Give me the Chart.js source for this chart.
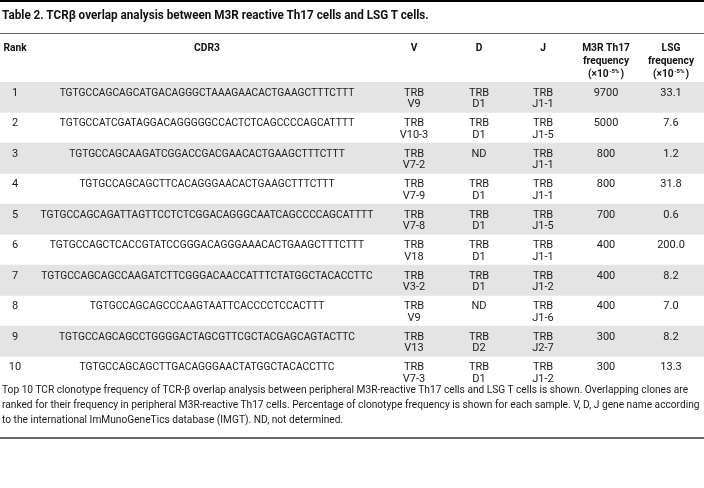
<!DOCTYPE html>
<html>
<head>
<meta charset="utf-8">
<script src="https://cdn.jsdelivr.net/npm/chart.js@4.4.1/dist/chart.umd.min.js"></script>
<style>
  html, body { margin: 0; padding: 0; background: #fff; }
  #wrap { position: relative; width: 704px; height: 488px; overflow: hidden; font-family: Roboto, "DejaVu Sans", sans-serif; color: #1a1a1a; }
  #topBar { position: absolute; left: 0; top: 0; width: 704px; height: 2px; background: #000; }
  #title { position: absolute; left: 2px; top: 6px; font-size: 12.5px; line-height: 17px; font-weight: bold; white-space: nowrap; color: #111; transform-origin: 0 0; }
  #rule1 { position: absolute; left: 0; top: 33px; width: 704px; height: 1px; background: #666; }
  #note { position: absolute; left: 2px; top: 382px; font-size: 10.5px; line-height: 15px; white-space: nowrap; color: #1a1a1a; transform-origin: 0 0; }
  #rule2 { position: absolute; left: 0; top: 437px; width: 704px; height: 2px; background: #666; }
  #tabela { position: absolute; left: 0; top: 0; }
</style>
</head>
<body>
<div id="wrap">
  <canvas id="tabela" width="704" height="488"></canvas>
  <div id="topBar"></div>
  <div id="title">Table 2. TCRβ overlap analysis between M3R reactive Th17 cells and LSG T cells.</div>
  <div id="rule1"></div>
  <div id="note"><span id="nota1">Top 10 TCR clonotype frequency of TCR-β overlap analysis between peripheral M3R-reactive Th17 cells and LSG T cells is shown. Overlapping clones are</span><br>ranked for their frequency in peripheral M3R-reactive Th17 cells. Percentage of clonotype frequency is shown for each sample. V, D, J gene name according<br>to the international ImMunoGeneTics database (IMGT). ND, not determined.</div>
  <div id="rule2"></div>
</div>
<script>
// dados da tabela
const ranks = ["1", "2", "3", "4", "5", "6", "7", "8", "9", "10"];
const cdr3 = [
    "TGTGCCAGCAGCATGACAGGGCTAAAGAACACTGAAGCTTTCTTT",
    "TGTGCCATCGATAGGACAGGGGGCCACTCTCAGCCCCAGCATTTT",
    "TGTGCCAGCAAGATCGGACCGACGAACACTGAAGCTTTCTTT",
    "TGTGCCAGCAGCTTCACAGGGAACACTGAAGCTTTCTTT",
    "TGTGCCAGCAGATTAGTTCCTCTCGGACAGGGCAATCAGCCCCAGCATTTT",
    "TGTGCCAGCTCACCGTATCCGGGACAGGGAAACACTGAAGCTTTCTTT",
    "TGTGCCAGCAGCCAAGATCTTCGGGACAACCATTTCTATGGCTACACCTTC",
    "TGTGCCAGCAGCCCAAGTAATTCACCCCTCCACTTT",
    "TGTGCCAGCAGCCTGGGGACTAGCGTTCGCTACGAGCAGTACTTC",
    "TGTGCCAGCAGCTTGACAGGGAACTATGGCTACACCTTC"
];
const genesV = ["V9", "V10-3", "V7-2", "V7-9", "V7-8", "V18", "V3-2", "V9", "V13", "V7-3"];
const genesD = ["D1", "D1", "ND", "D1", "D1", "D1", "D1", "ND", "D2", "D1"];
const genesJ = ["J1-1", "J1-5", "J1-1", "J1-1", "J1-5", "J1-1", "J1-2", "J1-6", "J2-7", "J1-2"];
const freqM3R = [9700, 5000, 800, 800, 700, 400, 400, 400, 300, 300];
const freqLSG = [33.1, 7.6, 1.2, 31.8, 0.6, 200.0, 8.2, 7.0, 8.2, 13.3];
const headers = ["Rank", "CDR3", "V", "D", "J", "M3R Th17", "LSG"];

// layout (unidades do eixo x, 0..704)
const COL_X = [15, 207, 414, 479, 543, 606, 671];
const FONTE = 'Roboto, "DejaVu Sans", sans-serif';

// aperta título e nota na horizontal até a largura do original
function apertar(el, medirEl, alvo) {
    const m = document.createElement("canvas").getContext("2d");
    const st = getComputedStyle(el);
    m.font = st.fontWeight + " " + st.fontSize + " " + FONTE;
    const w = m.measureText(medirEl.textContent).width;
    el.style.transform = "scaleX(" + (alvo / w).toFixed(4) + ")";
}
const tituloEl = document.getElementById("title");
apertar(tituloEl, tituloEl, 428);
apertar(document.getElementById("note"), document.getElementById("nota1"), 687);

function geneCell(g) {
    // "ND" fica numa linha só
    return g === "ND" ? ["ND"] : ["TRB", g];
}

// texto centrado com escala horizontal
function texto(ctx, t, cx, cy, sx) {
    ctx.save();
    ctx.translate(cx, cy);
    ctx.scale(sx, 1);
    ctx.fillText(t, 0, 0);
    ctx.restore();
}

const textoTabela = {
    id: "textoTabela",
    afterDatasetsDraw(chart) {
        const ctx = chart.ctx;
        const x = chart.scales.x;
        const y = chart.scales.y;
        const meia = (y.getPixelForValue(1) - y.getPixelForValue(0)) / 2;
        ctx.save();
        ctx.textAlign = "center";
        ctx.textBaseline = "middle";

        // cabeçalho
        const topo = y.getPixelForValue(0) - meia;
        const h1 = topo - 33.5;
        ctx.fillStyle = "#111";
        ctx.font = "bold 11px " + FONTE;
        headers.forEach((h, c) => {
            texto(ctx, h, x.getPixelForValue(COL_X[c]), h1, 0.93);
        });
        [5, 6].forEach(c => {
            const cx = x.getPixelForValue(COL_X[c]);
            ctx.font = "bold 11px " + FONTE;
            texto(ctx, "frequency", cx, h1 + 12.5, 0.93);
            // (×10-5%) com expoente
            const a = "(×10", b = "-5%", d = ")";
            const wa = ctx.measureText(a).width * 0.93;
            const wd = ctx.measureText(d).width * 0.93;
            ctx.font = "bold 6px " + FONTE;
            const wb = ctx.measureText(b).width;
            const px = cx - (wa + wb + wd + 1.5) / 2;
            ctx.textAlign = "left";
            ctx.font = "bold 11px " + FONTE;
            texto(ctx, a, px, h1 + 26, 0.93);
            ctx.font = "bold 6px " + FONTE;
            ctx.fillText(b, px + wa + 0.5, h1 + 23);
            ctx.font = "bold 11px " + FONTE;
            texto(ctx, d, px + wa + wb + 1.5, h1 + 26, 0.93);
            ctx.textAlign = "center";
        });

        // corpo
        ctx.fillStyle = "#1a1a1a";
        ctx.font = "11px " + FONTE;
        ranks.forEach((r, i) => {
            const l1 = y.getPixelForValue(i) - meia + 11;
            const l2 = l1 + 11.5;
            const celulas = [
                [r], [cdr3[i]], ["TRB", genesV[i]], geneCell(genesD[i]), geneCell(genesJ[i]),
                [String(freqM3R[i])], [freqLSG[i].toFixed(1)]
            ];
            celulas.forEach((linhas, c) => {
                const cx = x.getPixelForValue(COL_X[c]);
                const sx = c === 1 ? 0.93 : 1;
                linhas.forEach((t, k) => texto(ctx, t, cx, k === 0 ? l1 : l2, sx));
            });
        });
        ctx.restore();
    }
};

const ctx = document.getElementById("tabela").getContext("2d");
const tabelaChart = new Chart(ctx, {
    type: "bar",
    data: {
        labels: ranks,
        datasets: [{
            label: "linhas",
            // faixas cinza nas linhas ímpares
            data: ranks.map((r, i) => (i % 2 === 0 ? [0, 704] : null)),
            backgroundColor: "#e4e4e4",
            borderWidth: 0,
            barPercentage: 1,
            categoryPercentage: 1,
        }],
    },
    options: {
        indexAxis: "y",
        responsive: false,
        animation: false,
        layout: { padding: { top: 82, bottom: 101, left: 0, right: 0 } },
        plugins: {
            legend: { display: false },
            tooltip: { enabled: false },
        },
        scales: {
            x: { type: "linear", min: 0, max: 704, display: false },
            y: { type: "category", display: false, offset: true },
        },
    },
    plugins: [textoTabela],
});
</script>
</body>
</html>
